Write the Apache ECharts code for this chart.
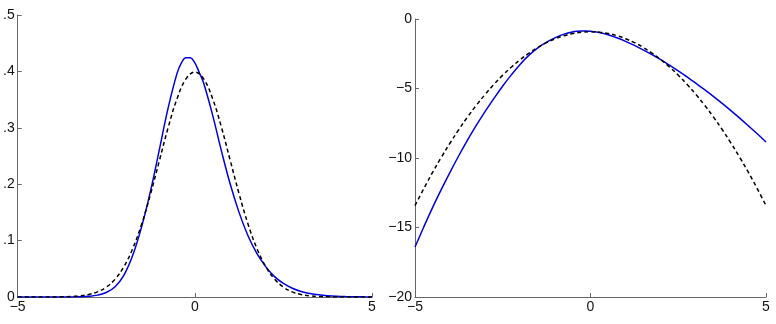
<!DOCTYPE html>
<html>
<head>
<meta charset="utf-8">
<script src="https://cdn.jsdelivr.net/npm/echarts@6/dist/echarts.min.js"></script>
<style>
html,body{margin:0;padding:0;background:#fff;}
#c{width:776px;height:324px;}
</style>
</head>
<body>
<div id="c"></div>
<script>
// x positions for the dashed (normal) curve
var xs = [-5,-4.75,-4.5,-4.25,-4,-3.75,-3.5,-3.25,-3,-2.75,-2.5,-2.25,-2,-1.75,-1.5,-1.25,-1,-0.75,-0.5,-0.25,0,
          0.25,0.5,0.75,1,1.25,1.5,1.75,2,2.25,2.5,2.75,3,3.25,3.5,3.75,4,4.25,4.5,4.75,5];
// x positions for the blue curve (denser around its mode)
var xsBlue = [-5,-4.75,-4.5,-4.25,-4,-3.75,-3.5,-3.25,-3,-2.75,-2.5,-2.25,-2,-1.75,-1.5,-1.25,-1,-0.75,-0.5,-0.375,-0.25,-0.125,0,0.125,
          0.25,0.5,0.75,1,1.25,1.5,1.75,2,2.25,2.5,2.75,3,3.25,3.5,3.75,4,4.25,4.5,4.75,5];

// left panel: densities
var normalPdf = [0.0000015,0.000005,0.000016,0.00005,0.00013,0.00035,0.00087,0.00203,0.00443,0.00909,0.01753,0.03174,0.05399,0.08628,0.12952,0.18265,0.24197,0.30114,0.35207,0.38667,0.39894,
                 0.38667,0.35207,0.30114,0.24197,0.18265,0.12952,0.08628,0.05399,0.03174,0.01753,0.00909,0.00443,0.00203,0.00087,0.00035,0.00013,0.00005,0.000016,0.000005,0.0000015];
var bluePdf = [0.0000001,0.0000003,0.0000013,0.0000047,0.0000165,0.000054,0.000168,0.000481,0.00129,0.00331,0.00807,0.0183,0.0388,0.0743,0.1249,0.1882,0.2618,0.3362,0.3969,0.4156,0.4243,0.4240,0.4152,0.3981,
               0.3791,0.3230,0.2592,0.1999,0.1496,0.1086,0.0773,0.0539,0.0362,0.0240,0.0155,0.00985,0.00622,0.00381,0.00231,0.00137,0.00080,0.00046,0.00026,0.00014];

// right panel: log densities
var normalLog = [-13.42,-12.20,-11.04,-9.95,-8.92,-7.95,-7.04,-6.20,-5.42,-4.70,-4.04,-3.45,-2.92,-2.45,-2.04,-1.70,-1.42,-1.20,-1.04,-0.95,-0.92,
                 -0.95,-1.04,-1.20,-1.42,-1.70,-2.04,-2.45,-2.92,-3.45,-4.04,-4.70,-5.42,-6.20,-7.04,-7.95,-8.92,-9.95,-11.04,-12.20,-13.42];
var blueLog = [-16.40,-14.96,-13.57,-12.26,-11.01,-9.82,-8.69,-7.64,-6.65,-5.71,-4.82,-4.00,-3.25,-2.60,-2.08,-1.67,-1.34,-1.09,-0.924,-0.878,-0.857,-0.858,-0.879,-0.921,
               -0.97,-1.13,-1.35,-1.61,-1.90,-2.22,-2.56,-2.92,-3.32,-3.73,-4.17,-4.62,-5.08,-5.57,-6.07,-6.59,-7.13,-7.69,-8.26,-8.85];

// tick labels
var leftYTicks = {0:'0', 0.1:'.1', 0.2:'.2', 0.3:'.3', 0.4:'.4', 0.5:'.5'};

function pairs(x, y){ return x.map(function(v,i){ return [v, y[i]]; }); }
function minus(v){ return String(v).replace('-', '\u2212'); }

var axisColor = '#666';
var font = {fontFamily:'Liberation Sans', fontSize:14, color:'#111'};

function xAxis(idx){
  return {
    gridIndex: idx, type:'value', min:-5, max:5, interval:5,
    axisLine:{show:true, onZero:false, lineStyle:{color:axisColor, width:1}},
    axisTick:{show:true, inside:true, length:4, lineStyle:{color:axisColor}},
    axisLabel:Object.assign({margin:3, formatter:function(v){return minus(v);}}, font),
    splitLine:{show:false}
  };
}

var option = {
  animation:false,
  backgroundColor:'#fff',
  grid:[
    {left:15, right:404, top:15, bottom:27},
    {left:415, right:10, top:19, bottom:27}
  ],
  xAxis:[xAxis(0), xAxis(1)],
  yAxis:[
    {gridIndex:0, type:'value', min:0, max:0.5, interval:0.1,
     axisLine:{show:true, onZero:false, lineStyle:{color:axisColor, width:1}},
     axisTick:{show:true, inside:true, length:4, lineStyle:{color:axisColor}},
     axisLabel:Object.assign({margin:3, formatter:function(v){
        var k = Math.round(v*10)/10; return leftYTicks[k] !== undefined ? leftYTicks[k] : String(k);
     }}, font),
     splitLine:{show:false}},
    {gridIndex:1, type:'value', min:-20, max:0, interval:5,
     axisLine:{show:true, onZero:false, lineStyle:{color:axisColor, width:1}},
     axisTick:{show:true, inside:true, length:4, lineStyle:{color:axisColor}},
     axisLabel:Object.assign({margin:3, formatter:function(v){return minus(v);}}, font),
     splitLine:{show:false}}
  ],
  series:[
    {type:'line', xAxisIndex:0, yAxisIndex:0, data:pairs(xs, normalPdf), smooth:0.4, showSymbol:false,
     lineStyle:{color:'#000', width:1.5, type:[4,3]}, z:3},
    {type:'line', xAxisIndex:0, yAxisIndex:0, data:pairs(xsBlue, bluePdf), smooth:0.4, showSymbol:false,
     lineStyle:{color:'#0000e0', width:1.5}, z:2},
    {type:'line', xAxisIndex:1, yAxisIndex:1, data:pairs(xs, normalLog), smooth:0.4, showSymbol:false,
     lineStyle:{color:'#000', width:1.5, type:[4,3]}, z:3},
    {type:'line', xAxisIndex:1, yAxisIndex:1, data:pairs(xsBlue, blueLog), smooth:0.4, showSymbol:false,
     lineStyle:{color:'#0000e0', width:1.5}, z:2}
  ]
};
var chart = echarts.init(document.getElementById('c'), null, {renderer:'canvas'});
chart.setOption(option);
</script>
</body>
</html>
